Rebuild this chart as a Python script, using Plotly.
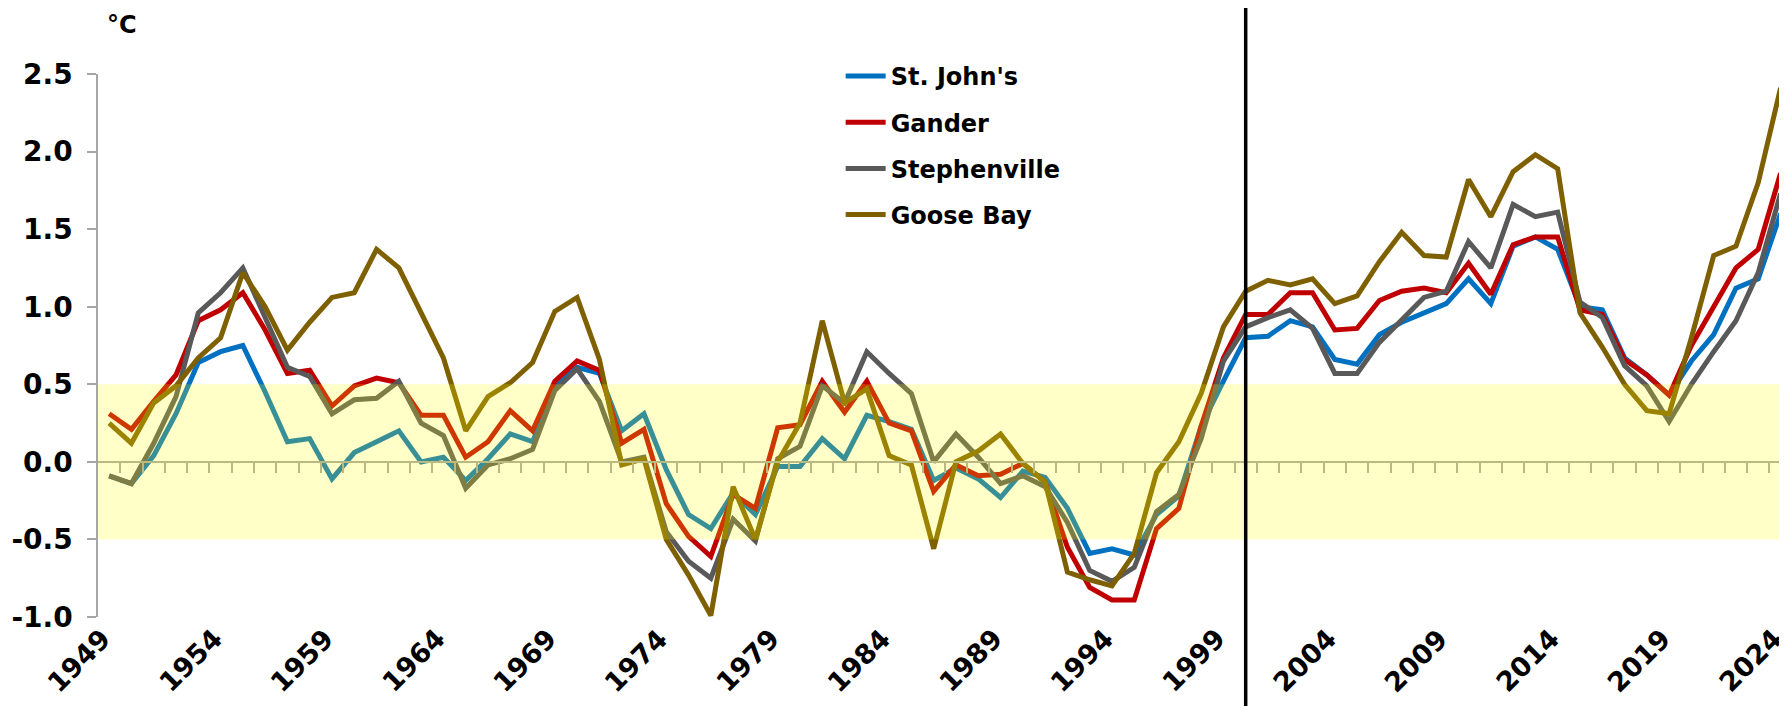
import plotly.graph_objects as go

# ---------------- data ----------------
years = list(range(1949, 2025))

st_johns = [-0.09, -0.14, 0.04, 0.31, 0.64, 0.71, 0.75, 0.45, 0.13, 0.15,
            -0.11, 0.06, 0.13, 0.20, 0.00, 0.03, -0.12, 0.02, 0.18, 0.13,
            0.48, 0.61, 0.57, 0.20, 0.31, -0.05, -0.34, -0.43, -0.20, -0.34,
            -0.03, -0.03, 0.15, 0.02, 0.30, 0.26, 0.21, -0.12, -0.04, -0.11,
            -0.23, -0.06, -0.10, -0.30, -0.59, -0.56, -0.60, -0.34, -0.22, 0.23,
            0.52, 0.80, 0.81, 0.91, 0.87, 0.66, 0.63, 0.82, 0.90, 0.96,
            1.02, 1.18, 1.02, 1.39, 1.45, 1.37, 1.00, 0.98, 0.67, 0.56,
            0.43, 0.65, 0.82, 1.12, 1.18, 1.60]

gander = [0.31, 0.21, 0.39, 0.56, 0.91, 0.98, 1.09, 0.85, 0.57, 0.59,
          0.36, 0.49, 0.54, 0.51, 0.30, 0.30, 0.03, 0.13, 0.33, 0.20,
          0.52, 0.65, 0.59, 0.12, 0.21, -0.27, -0.48, -0.61, -0.21, -0.30,
          0.22, 0.24, 0.52, 0.32, 0.52, 0.25, 0.20, -0.19, -0.02, -0.09,
          -0.08, -0.01, -0.13, -0.55, -0.81, -0.89, -0.89, -0.43, -0.30, 0.23,
          0.67, 0.95, 0.95, 1.09, 1.09, 0.85, 0.86, 1.04, 1.10, 1.12,
          1.09, 1.28, 1.08, 1.40, 1.45, 1.45, 0.98, 0.95, 0.66, 0.56,
          0.43, 0.75, 1.00, 1.25, 1.37, 1.86]

stephenville = [-0.09, -0.14, 0.12, 0.42, 0.96, 1.09, 1.25, 0.93, 0.61, 0.55,
                0.31, 0.40, 0.41, 0.52, 0.25, 0.17, -0.17, -0.02, 0.02, 0.08,
                0.46, 0.60, 0.39, 0.00, 0.03, -0.45, -0.64, -0.75, -0.37, -0.51,
                0.02, 0.10, 0.49, 0.38, 0.71, 0.57, 0.44, 0.00, 0.18, 0.03,
                -0.14, -0.09, -0.16, -0.39, -0.70, -0.77, -0.68, -0.32, -0.21, 0.15,
                0.65, 0.87, 0.93, 0.98, 0.86, 0.57, 0.57, 0.77, 0.91, 1.06,
                1.10, 1.42, 1.25, 1.66, 1.58, 1.61, 1.03, 0.93, 0.62, 0.49,
                0.26, 0.50, 0.71, 0.91, 1.22, 1.73]

goose_bay = [0.25, 0.12, 0.38, 0.49, 0.67, 0.80, 1.22, 1.00, 0.72, 0.90,
             1.06, 1.09, 1.37, 1.25, 0.96, 0.67, 0.20, 0.42, 0.51, 0.64,
             0.97, 1.06, 0.66, -0.02, 0.02, -0.50, -0.73, -0.99, -0.16, -0.50,
             0.00, 0.25, 0.91, 0.38, 0.47, 0.04, -0.02, -0.56, 0.00, 0.07,
             0.18, -0.01, -0.13, -0.71, -0.76, -0.80, -0.59, -0.07, 0.13, 0.44,
             0.87, 1.10, 1.17, 1.14, 1.18, 1.02, 1.07, 1.29, 1.48, 1.33,
             1.32, 1.82, 1.58, 1.87, 1.98, 1.89, 0.96, 0.74, 0.50, 0.33,
             0.31, 0.80, 1.33, 1.39, 1.80, 2.41]

series_names = ["St. John's", "Gander", "Stephenville", "Goose Bay"]
series_values = [st_johns, gander, stephenville, goose_bay]
series_colors = ["#0070C0", "#C00000", "#595959", "#7F6000"]

x_tick_years = [1949, 1954, 1959, 1964, 1969, 1974, 1979, 1984, 1989,
                1994, 1999, 2004, 2009, 2014, 2019, 2024]
x_tick_labels = ["1949", "1954", "1959", "1964", "1969", "1974", "1979", "1984",
                 "1989", "1994", "1999", "2004", "2009", "2014", "2019", "2024"]
y_tick_values = [-1.0, -0.5, 0.0, 0.5, 1.0, 1.5, 2.0, 2.5]
y_tick_labels = ["-1.0", "-0.5", "0.0", "0.5", "1.0", "1.5", "2.0", "2.5"]

band_low, band_high = -0.5, 0.5
divider_year = 2000
unit_label = "°C"

# ---------------- figure ----------------
FONT = "DejaVu Sans"
AXIS_GRAY = "#A6A6A6"
x_range = [1948.5, 2024.29]
y_range = [-1.0, 2.5]

fig = go.Figure()
for name, vals, col in zip(series_names, series_values, series_colors):
    fig.add_trace(go.Scatter(
        x=years, y=vals, name=name, mode="lines",
        line=dict(color=col, width=5),
        legendgroup=name,
    ))

# dummy trace so the zero-position category axis is drawn
fig.add_trace(go.Scatter(x=[years[0]], y=[None], xaxis="x2", showlegend=False,
                         hoverinfo="skip", mode="lines"))

zero_pos = (0 - y_range[0]) / (y_range[1] - y_range[0])

# page body has an 8px default margin; figure sized to compensate
fig.update_layout(
    width=1779, height=698,
    margin=dict(l=90, r=0, t=66, b=89, autoexpand=False),
    paper_bgcolor="white", plot_bgcolor="white",
    font=dict(family=FONT, size=24, color="black", weight="bold"),
    showlegend=True,
    legend=dict(
        x=0.4397, y=1.037, xanchor="left", yanchor="top",
        bgcolor="rgba(0,0,0,0)", borderwidth=0,
        font=dict(family=FONT, size=24, color="black", weight="bold"),
        tracegroupgap=12, itemwidth=40,
    ),
    xaxis=dict(
        range=x_range, showgrid=False, zeroline=False, showline=False,
        automargin=False, showticklabels=False, ticks="",
        tickmode="array", tickvals=x_tick_years,
    ),
    xaxis2=dict(
        range=x_range, overlaying="x", anchor="free", position=zero_pos,
        automargin=False,
        showgrid=False, zeroline=False, showline=True, linecolor=AXIS_GRAY,
        linewidth=1.5, ticks="outside", ticklen=10, tickwidth=1.5,
        tickcolor=AXIS_GRAY, showticklabels=False,
        tickmode="array", tickvals=[y + 0.5 for y in years[:-1]],
    ),
    yaxis=dict(
        range=y_range, showgrid=False, zeroline=False, showline=True,
        automargin=False,
        linecolor=AXIS_GRAY, linewidth=1.5, ticks="outside", ticklen=9,
        tickwidth=1.5, tickcolor=AXIS_GRAY,
        tickmode="array", tickvals=y_tick_values, ticktext=y_tick_labels,
        ticklabelstandoff=9,
        tickfont=dict(family=FONT, size=28, color="black", weight="bold"),
    ),
)

# rotated category labels: rotated box's top-right corner sits at the category
for yr, lab in zip(x_tick_years, x_tick_labels):
    fig.add_annotation(
        text=lab, x=yr, xref="x", y=-0.0055, yref="paper",
        xanchor="right", yanchor="top", textangle=-45, showarrow=False,
        xshift=10,
        font=dict(family=FONT, size=27, color="black", weight="bold"),
    )

# translucent normal band drawn above the lines
fig.add_shape(type="rect", xref="paper", yref="y", x0=0, x1=1,
              y0=band_low, y1=band_high, fillcolor="rgba(255,255,0,0.22)",
              line=dict(width=0), layer="above")

# vertical divider line spanning full height
fig.add_shape(type="line", xref="x", yref="paper", x0=divider_year, x1=divider_year,
              y0=-0.25, y1=1.25, line=dict(color="black", width=3.5), layer="above")

fig.add_annotation(text=unit_label, xref="paper", yref="paper",
                   x=0.0041, y=1.091, xanchor="left", yanchor="middle",
                   showarrow=False,
                   font=dict(family=FONT, size=24, color="black", weight="bold"))

fig.write_html("out.html")
